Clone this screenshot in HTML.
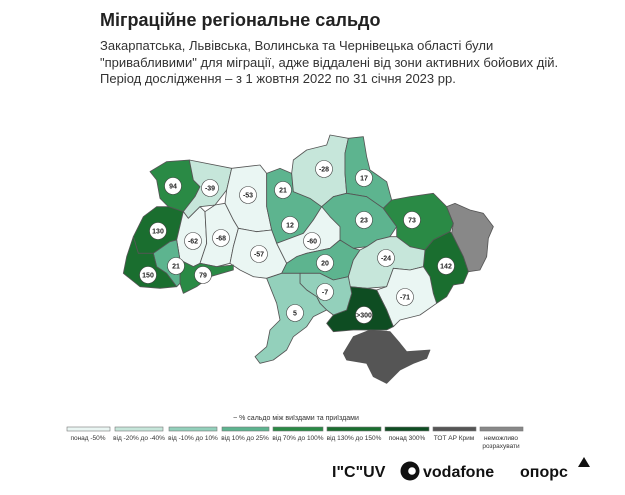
<!DOCTYPE html>
<html><head><meta charset="utf-8"><style>
body{margin:0;background:#fff;width:625px;height:495px;overflow:hidden;font-family:"Liberation Sans",sans-serif;position:relative}
.t{position:absolute;left:100px;top:10px;font-size:18px;font-weight:bold;color:#222}
.s{position:absolute;left:100px;top:38px;font-size:13px;line-height:16.5px;color:#333}
svg{position:absolute;left:0;top:0}
</style></head><body>
<div class="t">Міграційне регіональне сальдо</div>
<div class="s">Закарпатська, Львівська, Волинська та Чернівецька області були<br>"привабливими" для міграції, адже віддалені від зони активних бойових дій.<br>Період дослідження – з 1 жовтня 2022 по 31 січня 2023 рр.</div>
<svg width="625" height="495" viewBox="0 0 625 495">
<g transform="translate(100,130) scale(0.33333)" stroke="#555" stroke-width="2.5" stroke-linejoin="round">
<polygon fill="#2a8a45" points="150,125 200,95 268,90 280,150 300,170 285,200 250,245 205,230 180,205 170,150"/>
<polygon fill="#c6e6da" points="268,90 395,115 380,180 345,225 300,230 265,265 250,245 285,200 300,170 280,150"/>
<polygon fill="#eaf6f3" points="395,115 480,105 500,130 500,230 515,300 470,305 415,295 400,270 375,220 380,180"/>
<polygon fill="#5db48f" points="500,130 540,115 575,130 580,185 630,205 665,230 640,270 610,310 570,325 530,340 515,300 500,230"/>
<polygon fill="#c6e6da" points="575,130 580,90 620,60 680,45 690,15 745,25 735,70 735,130 740,190 700,200 665,230 630,205 580,185"/>
<polygon fill="#5db48f" points="745,25 790,20 800,80 810,120 860,155 875,210 850,235 800,200 740,190 735,130 735,70"/>
<polygon fill="#5db48f" points="665,230 700,200 740,190 800,200 850,235 890,290 870,320 830,330 800,350 760,355 720,330 690,300"/>
<polygon fill="#2a8a45" points="850,235 875,210 930,200 1000,190 1040,230 1060,280 1050,305 1000,330 975,360 930,350 890,320 890,290"/>
<polygon fill="#888" points="1040,230 1065,220 1110,240 1150,250 1180,290 1165,325 1160,380 1140,420 1105,425 1090,380 1055,310 1060,280"/>
<polygon fill="#1a6e2f" points="975,360 1000,330 1050,305 1055,310 1090,380 1105,425 1090,460 1060,465 1040,500 1010,520 1000,490 990,440 970,410"/>
<polygon fill="#1a6e2f" points="170,230 205,230 250,245 230,330 210,335 160,370 115,370 100,320 130,260"/>
<polygon fill="#eaf6f3" points="250,245 265,265 300,230 315,245 320,340 300,400 280,410 240,390 230,330"/>
<polygon fill="#eaf6f3" points="315,245 345,225 375,220 400,270 415,295 400,350 390,400 350,410 300,400 320,340"/>
<polygon fill="#eaf6f3" points="415,295 470,305 515,300 530,340 560,400 545,430 500,445 460,440 420,420 390,400 400,350"/>
<polygon fill="#eaf6f3" points="530,340 570,325 610,310 640,270 665,230 690,260 720,290 720,330 690,355 620,370 590,380 560,400"/>
<polygon fill="#5db48f" points="560,400 590,380 620,370 690,355 720,330 760,355 780,360 760,390 745,440 700,450 660,430 600,430 545,430"/>
<polygon fill="#c6e6da" points="780,360 800,350 830,330 870,320 890,320 930,350 975,360 970,410 930,420 880,415 860,470 800,475 750,470 745,440 760,390"/>
<polygon fill="#eaf6f3" points="860,470 880,415 930,420 970,410 990,440 1000,490 1010,520 960,555 900,570 880,590 860,540 830,480"/>
<polygon fill="#0e4d22" points="750,470 800,475 830,480 860,540 880,590 860,600 800,600 760,600 700,605 680,580 700,555 740,540 755,490"/>
<polygon fill="#93d0bb" points="600,430 660,430 700,450 745,440 755,490 740,540 700,555 680,540 660,520 650,500 620,480 600,460"/>
<polygon fill="#93d0bb" points="545,430 600,430 600,460 620,480 650,500 660,520 680,540 640,560 620,590 580,620 560,660 520,690 480,700 465,680 500,650 510,600 540,570 530,520 510,470 500,445"/>
<polygon fill="#555" points="760,620 810,600 870,605 900,640 920,665 990,660 980,685 940,700 900,720 860,760 820,740 800,700 740,690 730,670"/>
<polygon fill="#2a8a45" points="240,390 280,410 300,400 350,410 400,405 400,420 330,440 290,470 250,490 240,460"/>
<polygon fill="#5db48f" points="160,370 210,335 230,330 240,390 240,460 230,470 200,430 170,410"/>
<polygon fill="#1a6e2f" points="100,320 115,370 160,370 170,410 200,430 230,470 180,475 120,470 70,430 80,380"/>
</g>
<g font-size="7" font-weight="bold" text-anchor="middle" fill="#222">
<g fill="#fff" stroke="#444" stroke-width="0.6">
<circle cx="173" cy="186" r="8.5"/><circle cx="210" cy="188" r="8.5"/><circle cx="248" cy="195" r="8.5"/><circle cx="283" cy="190" r="8.5"/><circle cx="324" cy="169" r="8.5"/><circle cx="364" cy="178" r="8.5"/><circle cx="290" cy="225" r="8.5"/><circle cx="364" cy="220" r="8.5"/><circle cx="412" cy="220" r="8.5"/><circle cx="158" cy="231" r="8.5"/><circle cx="193" cy="241" r="8.5"/><circle cx="221" cy="238" r="8.5"/><circle cx="312" cy="241" r="8.5"/><circle cx="259" cy="254" r="8.5"/><circle cx="325" cy="263" r="8.5"/><circle cx="386" cy="258" r="8.5"/><circle cx="446" cy="266" r="8.5"/><circle cx="176" cy="266" r="8.5"/><circle cx="148" cy="275" r="8.5"/><circle cx="203" cy="275" r="8.5"/><circle cx="325" cy="292" r="8.5"/><circle cx="405" cy="297" r="8.5"/><circle cx="295" cy="313" r="8.5"/><circle cx="364" cy="315" r="8.5"/>
</g>
<text x="173" y="188.5">94</text><text x="210" y="190.5">-39</text><text x="248" y="197.5">-53</text><text x="283" y="192.5">21</text><text x="324" y="171.5">-28</text><text x="364" y="180.5">17</text><text x="290" y="227.5">12</text><text x="364" y="222.5">23</text><text x="412" y="222.5">73</text><text x="158" y="233.5">130</text><text x="193" y="243.5">-62</text><text x="221" y="240.5">-68</text><text x="312" y="243.5">-60</text><text x="259" y="256.5">-57</text><text x="325" y="265.5">20</text><text x="386" y="260.5">-24</text><text x="446" y="268.5">142</text><text x="176" y="268.5">21</text><text x="148" y="277.5">150</text><text x="203" y="277.5">79</text><text x="325" y="294.5">-7</text><text x="405" y="299.5">-71</text><text x="295" y="315.5">5</text><text x="364" y="317.5">&gt;300</text>
</g>
<text x="296" y="420" font-size="7" text-anchor="middle" fill="#333">~ % сальдо між виїздами та приїздами</text>
<g stroke="#777" stroke-width="0.6">
<rect x="67" y="427" width="43" height="4" fill="#eaf6f3"/><rect x="115" y="427" width="48" height="4" fill="#c6e6da"/><rect x="169" y="427" width="48" height="4" fill="#93d0bb"/><rect x="222" y="427" width="47" height="4" fill="#5db48f"/><rect x="273" y="427" width="50" height="4" fill="#2a8a45"/><rect x="327" y="427" width="54" height="4" fill="#1a6e2f"/><rect x="385" y="427" width="44" height="4" fill="#0e4d22"/><rect x="433" y="427" width="43" height="4" fill="#555"/><rect x="480" y="427" width="43" height="4" fill="#888"/>
</g>
<g font-size="6.5" fill="#333" text-anchor="middle">
<text x="88" y="440">понад -50%</text><text x="139" y="440">від -20% до -40%</text><text x="193" y="440">від -10% до 10%</text><text x="245" y="440">від 10% до 25%</text><text x="298" y="440">від 70% до 100%</text><text x="354" y="440">від 130% до 150%</text><text x="407" y="440">понад 300%</text><text x="454" y="440">ТОТ АР Крим</text><text x="501" y="440">неможливо</text><text x="501" y="448">розрахувати</text>
</g>
<text x="332" y="477" font-size="16" font-weight="bold" fill="#111">I"C"UV</text>
<circle cx="410" cy="471" r="9.5" fill="#111"/><circle cx="412" cy="471" r="3.8" fill="#fff"/>
<text x="423" y="477" font-size="16" font-weight="bold" fill="#111">vodafone</text>
<text x="520" y="477" font-size="16" font-weight="bold" fill="#111">опорс</text>
<polygon points="584,457 590,467 578,467" fill="#111"/>
</svg>
</body></html>
